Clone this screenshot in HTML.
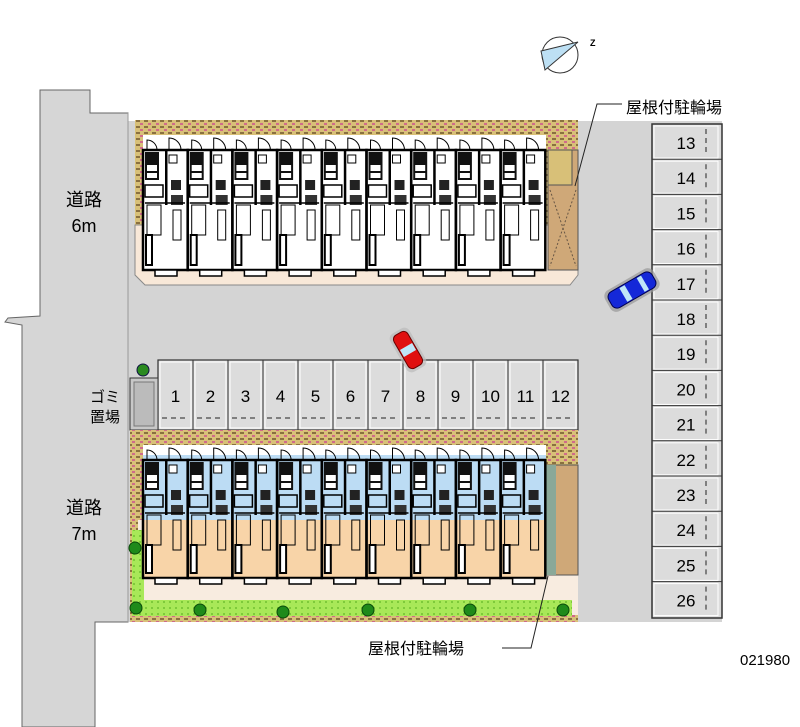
<!DOCTYPE html>
<html><head><meta charset="utf-8"><style>
html,body{margin:0;padding:0;background:#fff;width:800px;height:727px;overflow:hidden}
svg{display:block}
text{font-family:"Liberation Sans","Noto Sans CJK JP",sans-serif}
</style></head><body>
<svg id="s" width="800" height="727" viewBox="0 0 800 727" xmlns="http://www.w3.org/2000/svg">
<defs>
<pattern id="brick" width="8" height="6" patternUnits="userSpaceOnUse">
<rect width="8" height="6" fill="#d8c078"/><rect x="0" y="0" width="4" height="2" fill="#8a7040"/><rect x="4" y="3" width="3" height="2" fill="#d06a8a"/>
</pattern>
<pattern id="hedge" width="6" height="6" patternUnits="userSpaceOnUse">
<rect width="6" height="6" fill="#a8e858"/><circle cx="2" cy="2" r="1" fill="#70c030"/>
</pattern>
</defs>
<polygon points="40,90 90,90 90,113 128,113 128,622 95,622 95,727 22,727 22,325 5,322 8,318 40,316" fill="#d6d6d6" stroke="#666" stroke-width="1"/>
<rect x="128" y="113" width="594" height="509" fill="#d4d4d4"/>
<rect x="128" y="113" width="450" height="8" fill="#fff"/>
<line x1="128" y1="113" x2="128" y2="622" stroke="#999"/>
<rect x="578" y="113" width="144" height="8" fill="#fff"/>
<rect x="652" y="124" width="70" height="494" fill="#dcdcdc" stroke="#333" stroke-width="1.5"/>
<g id="rp"></g>
<rect x="158" y="360" width="420" height="70" fill="#dcdcdc" stroke="#333" stroke-width="1.2"/>
<g id="lp"></g>
<rect x="130" y="378" width="28" height="52" fill="#c8c8c8" stroke="#333"/>
<rect x="134" y="382" width="20" height="44" fill="#bbb" stroke="#777"/>
<circle cx="143" cy="370" r="6" fill="#2a8a20" stroke="#114"/>
<path d="M135,120 H578 V275 L570,285 H145 L135,275 Z" fill="url(#brick)"/>
<path d="M135,225 H578 V275 L570,285 H145 L135,275 Z" fill="#f8e8d8" stroke="#888"/>
<rect x="143" y="135" width="403" height="135" fill="#fff"/>
<rect x="548" y="150" width="30" height="120" fill="#cfa878" stroke="#555"/>
<rect x="548" y="150" width="24" height="35" fill="#d8c078" stroke="#555"/>
<path d="M550,190 L576,266 M576,190 L550,266" stroke="#654" stroke-dasharray="2,2" fill="none"/>
<g id="u1"></g>
<rect x="130" y="430" width="448" height="192" fill="url(#brick)"/>
<rect x="138" y="520" width="440" height="95" fill="#f8ece0"/>
<rect x="132" y="530" width="12" height="85" fill="url(#hedge)"/>
<rect x="132" y="600" width="440" height="16" fill="url(#hedge)"/>
<rect x="143" y="445" width="403" height="133" fill="#fff"/>
<rect x="143" y="455" width="403" height="65" fill="#bcdcf4"/>
<rect x="143" y="520" width="403" height="58" fill="#f8d4a8"/>
<rect x="546" y="465" width="32" height="110" fill="#cfa878" stroke="#555"/>
<rect x="546" y="465" width="10" height="110" fill="#8aa898"/>
<g id="u2"></g>
<g fill="#1f8a1a" stroke="#0a4a0a">
<circle cx="135" cy="548" r="6"/><circle cx="136" cy="608" r="6"/><circle cx="200" cy="610" r="6"/><circle cx="283" cy="612" r="6"/><circle cx="368" cy="610" r="6"/><circle cx="470" cy="610" r="6"/><circle cx="563" cy="610" r="6"/>
</g>
<g transform="translate(408,350) rotate(60)">
<rect x="-22" y="-11" width="44" height="22" rx="6" fill="#bbb" opacity=".7"/>
<rect x="-19" y="-8" width="38" height="16" rx="5" fill="#e01010" stroke="#600"/>
<rect x="-4" y="-7" width="8" height="14" fill="#bfe6f8"/>
</g>
<g transform="translate(632,290) rotate(-30)">
<rect x="-28" y="-12" width="56" height="24" rx="7" fill="#999" opacity=".7"/>
<rect x="-25" y="-9" width="50" height="18" rx="6" fill="#1428d8" stroke="#000050"/>
<rect x="-10" y="-8" width="6" height="16" fill="#bfe6f8"/><rect x="10" y="-8" width="5" height="16" fill="#bfe6f8"/>
</g>
<circle cx="560" cy="55" r="18" fill="none" stroke="#333"/>
<polygon points="541,51 578,42 545,70" fill="#bde0f4" stroke="#333"/>
<text x="590" y="46" font-size="9" font-weight="bold">Z</text>
<text x="84" y="206" font-size="18" text-anchor="middle">道路</text>
<text x="84" y="232" font-size="18" text-anchor="middle">6m</text>
<text x="84" y="514" font-size="18" text-anchor="middle">道路</text>
<text x="84" y="540" font-size="18" text-anchor="middle">7m</text>
<text x="105" y="402" font-size="15" text-anchor="middle">ゴミ</text>
<text x="105" y="422" font-size="15" text-anchor="middle">置場</text>
<text x="626" y="113" font-size="16">屋根付駐輪場</text>
<polyline points="622,104 597,104 575,186" fill="none" stroke="#222"/>
<text x="368" y="654" font-size="16">屋根付駐輪場</text>
<polyline points="502,648 531,648 548,576" fill="none" stroke="#222"/>
<text x="740" y="665" font-size="15">021980</text>
</svg>
<script>
var NS="http://www.w3.org/2000/svg";
function el(p,t,a,txt){var e=document.createElementNS(NS,t);for(var k in a)e.setAttribute(k,a[k]);if(txt)e.textContent=txt;p.appendChild(e);return e;}
var rp=document.getElementById('rp');
for(var i=0;i<14;i++){var y=124+i*35.2;
el(rp,'rect',{x:654,y:y+2,width:64,height:32,fill:'#dcdcdc',stroke:'#fff','stroke-width':1});
el(rp,'line',{x1:652,y1:y,x2:722,y2:y,stroke:'#333','stroke-width':1});
el(rp,'text',{x:686,y:y+25,'font-size':17,'text-anchor':'middle'},String(13+i));
el(rp,'line',{x1:706,y1:y+5,x2:706,y2:y+31,stroke:'#222','stroke-dasharray':'5,4'});}
var lp=document.getElementById('lp');
for(var i=0;i<12;i++){var x=158+i*35;
el(lp,'rect',{x:x+2,y:362,width:31,height:66,fill:'#dcdcdc',stroke:'#fff'});
el(lp,'line',{x1:x,y1:360,x2:x,y2:430,stroke:'#333'});
el(lp,'text',{x:x+17.5,y:402,'font-size':17,'text-anchor':'middle'},String(i+1));
el(lp,'line',{x1:x+4,y1:418,x2:x+31,y2:418,stroke:'#222','stroke-dasharray':'5,4'});}
function units(g,top,bot){
el(g,'line',{x1:143,y1:top+15,x2:546,y2:top+15,stroke:'#000','stroke-width':2});
for(var i=0;i<9;i++){var x=143+i*44.7;
el(g,'rect',{x:x,y:top+15,width:44.7,height:bot-top-15,fill:'none',stroke:'#000','stroke-width':2.5});
el(g,'rect',{x:x+2,y:top+17,width:14,height:28,fill:'#111'});
el(g,'rect',{x:x+4,y:top+30,width:10,height:6,fill:'#fff'});
el(g,'rect',{x:x+4,y:top+38,width:10,height:5,fill:'#fff'});
el(g,'rect',{x:x+22,y:top+15,width:2.5,height:55,fill:'#000'});
el(g,'rect',{x:x+26,y:top+20,width:8,height:8,fill:'#fff',stroke:'#000'});
el(g,'rect',{x:x+28,y:top+45,width:10,height:10,fill:'#222'});
el(g,'path',{d:'M'+(x+4)+','+(top+15)+' v-10 a10,10 0 0 1 10,10 M'+(x+26)+','+(top+15)+' v-12 a12,12 0 0 1 12,12',fill:'none',stroke:'#000'});
el(g,'rect',{x:x+2,y:top+50,width:18,height:12,fill:'none',stroke:'#000','stroke-width':1.5});
el(g,'rect',{x:x+28,y:top+60,width:12,height:10,fill:'#333'});
el(g,'path',{d:'M'+(x+2)+','+(top+68)+' h40',stroke:'#000','stroke-width':1.5});
el(g,'rect',{x:x+4,y:top+70,width:14,height:30,fill:'none',stroke:'#000'});
el(g,'rect',{x:x+30,y:top+75,width:8,height:30,fill:'none',stroke:'#000'});
el(g,'rect',{x:x+3,y:top+100,width:6,height:bot-top-105,fill:'#fff',stroke:'#000','stroke-width':2});
el(g,'rect',{x:x+12,y:bot,width:22,height:6,fill:'#fff',stroke:'#000','stroke-width':1.5});}}
units(document.getElementById('u1'),135,270);
units(document.getElementById('u2'),445,578);
</script>
</body></html>
